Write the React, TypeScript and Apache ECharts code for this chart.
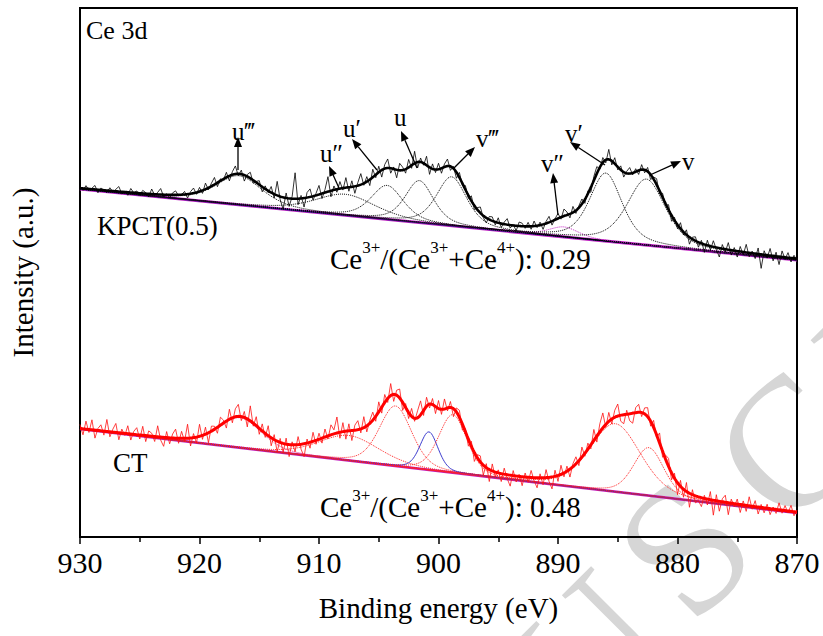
import React, { useEffect, useRef } from "react";
import * as echarts from "echarts";

const SERIF = "serif";

// Binding-energy window (eV) and raw sampling step
const E_HIGH = 930;
const E_LOW = 870;
const RAW_STEP = 0.25;

// ---- KPCT(0.5): Ce 3d fit ----
const KPCT_BACKGROUND = [348, 277]; // linear background at 930 eV and 870 eV
const KPCT_PEAKS = ["u‴", "u″", "u′", "u", "v‴", "v″", "v′", "v"];
const KPCT_CENTER = [916.7, 907.8, 904.3, 901.6, 898.9, 889.5, 886.0, 882.6];
const KPCT_HEIGHT = [29, 21, 34, 42, 49, 10, 68, 66];
const KPCT_FWHM = [4.6, 6.0, 3.2, 2.8, 3.0, 3.0, 3.2, 3.8];
const KPCT_MIX = 0.5; // Lorentzian fraction of the pseudo-Voigt line shape
// raw counts minus fitted envelope, 930 -> 870 eV every 0.25 eV
const KPCT_RESIDUAL = [
  2, -2, 3, -1, 1, 4, -3, 2, 0, -2,
  3, -1, 2, 5, -2, 1, -3, 4, 0, 2,
  -2, 3, 1, -3, 5, -1, 2, 6, -2, 1,
  -3, 2, 4, -1, 0, 3, -4, 2, 5, -2,
  4, -3, 6, -2, 3, 7, -4, 2, -1, 5,
  -5, 3, 8, -2, 4, -6, 2, 6, -3, 1,
  4, -5, 3, -2, 6, -4, 14, -3, -12, 5,
  -8, 2, 26, -6, 3, -9, 5, 8, -4, 2,
  9, -5, 3, 15, -6, 4, -3, 7, -2, 10,
  -4, 6, -7, 3, 11, -2, 5, -6, 8, -3,
  6, -7, 4, 9, -5, 2, -8, 7, 3, -4,
  8, -3, 12, -6, 4, -2, 9, -7, 5, -3,
  6, -5, 3, 7, -4, 2, -6, 5, -2, 4,
  -3, 5, -4, 2, 6, -2, -5, 3, 4, -3,
  5, -4, 2, 6, -3, 1, -5, 4, 3, -2,
  4, -3, 5, -2, 3, -5, 2, 6, -4, 1,
  5, -2, 7, 3, -4, 6, -3, 2, 5, -4,
  3, -5, 4, 7, -2, 5, -3, 10, -4, 6,
  -3, 4, -5, 2, 6, -2, 3, -4, 5, -3,
  4, -5, 2, 6, -3, 4, -2, 5, -6, 3,
  -4, 6, -3, 5, -7, 2, 4, -5, 3, -8,
  5, -4, 6, -2, -9, 4, -3, 7, -5, 3,
  -6, 5, -3, 8, -4, 2, -5, 6, -14, 4,
  -3, 7, -5, 4, -8, 6, -2, 5, -4, 3,
  -2,
];

// ---- CT: Ce 3d fit ----
const CT_BACKGROUND = [108, 24];
const CT_CENTER = [916.6, 907.5, 903.6, 900.8, 898.8, 885.2, 882.4];
const CT_HEIGHT = [30, 25, 60, 38, 58, 68, 48];
const CT_FWHM = [4.2, 6.0, 3.2, 1.8, 2.8, 5.0, 3.0];
const CT_MIX = 0.3;
const CT_RESIDUAL = [
  4, -6, 8, -3, 10, -8, 2, 6, -4, 12,
  -5, 3, 9, -7, 4, -2, 8, -6, 3, 7,
  -4, 9, -6, 5, 3, -5, 11, -3, -9, 6,
  -6, 4, 9, -5, 7, -3, 14, -8, 4, -6,
  12, -4, 7, -10, 5, 3, -6, 8, 3, -7,
  10, -5, 8, 12, -4, 6, -8, 15, -3, 9,
  -6, 7, -4, 10, -8, 5, -11, 4, -9, 6,
  -12, 3, -7, 8, -5, -13, 4, -6, 9, -4,
  6, -5, 8, -3, 10, 4, 16, -6, 9, -8,
  7, -10, 5, 9, -4, 11, -6, 3, 8, -5,
  10, -6, 8, -4, 12, -7, 5, 9, -8, 4,
  -6, 8, -3, 7, 14, -5, 9, -4, 6, -7,
  8, -5, 10, -3, 6, -8, 4, 7, -6, 3,
  -7, 5, -9, 3, 6, -10, 4, -12, 7, -5,
  3, -8, 6, -4, -11, 5, -6, 2, -9, 4,
  -5, 7, -3, -10, 4, -7, 8, -4, -12, 6,
  -6, 9, -4, 5, -8, 3, 7, -5, 10, -3,
  6, -4, 11, -6, 8, 15, -3, 9, -5, 7,
  12, -6, -9, 4, -7, -10, 5, 8, -4, 6,
  9, -5, 7, -3, 10, -6, 4, 8, -7, 5,
  -12, 6, -8, 9, -14, 5, -7, -4, -9, 3,
  -6, 8, -15, 6, -10, 3, 7, -12, 4, -3,
  5, -8, 4, -6, 9, -3, 6, -7, 3, -5,
  4, -6, 2, -4, 7, -3, 5, -2, 6, -4,
  2,
];

function pseudoVoigt(e: number, c: number, h: number, w: number, m: number) {
  const x = (e - c) / (w / 2);
  return h * ((1 - m) * Math.exp(-Math.LN2 * x * x) + m / (1 + x * x));
}

function buildSpectrum(
  bg: number[],
  centers: number[],
  heights: number[],
  fwhm: number[],
  mix: number,
  residual: number[]
) {
  const bgAt = (e: number) => bg[0] + ((bg[1] - bg[0]) * (E_HIGH - e)) / (E_HIGH - E_LOW);
  const peakSum = (e: number) =>
    centers.reduce((s, c, j) => s + pseudoVoigt(e, c, heights[j], fwhm[j], mix), 0);
  const fine: number[] = [];
  for (let k = 0; k <= 600; k++) fine.push(E_HIGH - k * 0.1);
  const components = centers.map((c, j) =>
    fine.map((e) => [e, bgAt(e) + pseudoVoigt(e, c, heights[j], fwhm[j], mix)])
  );
  const envelope = fine.map((e) => [e, bgAt(e) + peakSum(e)]);
  const raw = residual.map((r, i) => {
    const e = E_HIGH - i * RAW_STEP;
    return [e, bgAt(e) + peakSum(e) + r];
  });
  const background = [
    [E_HIGH, bg[0]],
    [E_LOW, bg[1]],
  ];
  return { components, envelope, raw, background };
}

function line(data: number[][], color: string, width: number, type: string = "solid", z = 2) {
  return {
    type: "line",
    data,
    showSymbol: false,
    symbol: "none",
    z,
    silent: true,
    lineStyle: { color, width, type },
  };
}

function arrow(x1: number, y1: number, x2: number, y2: number) {
  const dx = x2 - x1;
  const dy = y2 - y1;
  const len = Math.sqrt(dx * dx + dy * dy);
  const ux = dx / len;
  const uy = dy / len;
  const hl = 10;
  const hw = 4;
  const bx = x2 - ux * hl;
  const by = y2 - uy * hl;
  return [
    {
      type: "line",
      z: 20,
      shape: { x1, y1, x2: bx, y2: by },
      style: { stroke: "#000", lineWidth: 1.3 },
    },
    {
      type: "polygon",
      z: 20,
      shape: {
        points: [
          [x2, y2],
          [bx - uy * hw, by + ux * hw],
          [bx + uy * hw, by - ux * hw],
        ],
      },
      style: { fill: "#000" },
    },
  ];
}

function ratioText(value: string) {
  return `{a|Ce}{s|3+}{a|/(Ce}{s|3+}{a|+Ce}{s|4+}{a|): ${value}}`;
}

const ratioRich = {
  a: { fontSize: 29, fontFamily: SERIF, color: "#000", lineHeight: 34, verticalAlign: "bottom" },
  s: { fontSize: 17, fontFamily: SERIF, color: "#000", lineHeight: 34, verticalAlign: "top" },
};

// text annotation placed by its top-left corner
function note(text: string, left: number, top: number, size: number, rich?: any) {
  return {
    text,
    left,
    top,
    padding: 0,
    itemGap: 0,
    z: 20,
    textStyle: {
      fontSize: size,
      fontFamily: SERIF,
      fontWeight: "normal",
      color: "#000",
      ...(rich ? { rich } : {}),
    },
  };
}

export default function App() {
  const ref = useRef<HTMLDivElement>(null);

  useEffect(() => {
    if (!ref.current) return;
    const chart = echarts.init(ref.current, undefined, { renderer: "svg" });

    const kpct = buildSpectrum(KPCT_BACKGROUND, KPCT_CENTER, KPCT_HEIGHT, KPCT_FWHM, KPCT_MIX, KPCT_RESIDUAL);
    const ct = buildSpectrum(CT_BACKGROUND, CT_CENTER, CT_HEIGHT, CT_FWHM, CT_MIX, CT_RESIDUAL);

    const series: any[] = [];
    // KPCT(0.5)
    series.push(line(kpct.background, "#c020c0", 3, "solid", 1));
    series.push(line(kpct.background, "#1a1a8c", 1.4, "solid", 1));
    kpct.components.forEach((d, j) => {
      const color = KPCT_PEAKS[j] === "v″" ? "#c020c0" : "#000";
      series.push(line(d, color, 1, "dotted", 2));
    });
    series.push(line(kpct.raw, "#000", 0.8, "solid", 3));
    series.push(line(kpct.envelope, "#000", 2.6, "solid", 4));
    // CT
    series.push(line(ct.background, "#c020c0", 2.6, "solid", 1));
    series.push(line(ct.background, "#ff1a1a", 1.2, "solid", 1));
    ct.components.forEach((d, j) => {
      if (j === 3) series.push(line(d, "#2828c8", 0.9, "solid", 2));
      else series.push(line(d, j === 0 ? "#e0208a" : "#ff2020", 1, "dotted", 2));
    });
    series.push(line(ct.raw, "#ff1010", 0.8, "solid", 3));
    series.push(line(ct.envelope, "#ff0000", 3, "solid", 4));

    // diagonal page watermark behind the plot
    const watermark = [
      { t: "U", x: 588, y: 652 },
      { t: "S", x: 684, y: 548 },
      { t: "C", x: 788, y: 446 },
      { t: "R", x: 892, y: 342 },
    ].map((l) => ({
      type: "text",
      x: l.x,
      y: l.y,
      rotation: (45 * Math.PI) / 180,
      z: -10,
      silent: true,
      style: {
        text: l.t,
        fontSize: 185,
        fontFamily: SERIF,
        fill: "#d6d6d6",
        align: "center",
        verticalAlign: "middle",
      },
    }));

    // peak labels: text box top-left, arrow tail -> head
    const peakLabels = [
      { t: "u‴", left: 232, top: 119, a: [238, 170, 238, 137] },
      { t: "u″", left: 320, top: 141, a: [339, 188, 329, 166] },
      { t: "u′", left: 343, top: 116, a: [377, 170, 352, 139] },
      { t: "u", left: 394, top: 105, a: [417, 168, 401, 131] },
      { t: "v‴", left: 476, top: 126, a: [453, 169, 475, 147] },
      { t: "v″", left: 541, top: 151, a: [558, 215, 553, 173] },
      { t: "v′", left: 565, top: 121, a: [605, 165, 570, 142] },
      { t: "v", left: 682, top: 149, a: [650, 175, 681, 161] },
    ];
    const arrowEls: any[] = [];
    peakLabels.forEach((p) => arrowEls.push(...arrow(p.a[0], p.a[1], p.a[2], p.a[3])));

    chart.setOption({
      animation: false,
      backgroundColor: "#fff",
      textStyle: { fontFamily: SERIF },
      title: [
        note("Ce 3d", 86, 17, 26),
        note("KPCT(0.5)", 97, 212, 27),
        note("CT", 113, 449, 27),
        note(ratioText("0.29"), 330, 239, 29, ratioRich),
        note(ratioText("0.48"), 320, 487, 29, ratioRich),
        ...peakLabels.map((p) => note(p.t, p.left, p.top, 25)),
      ],
      grid: {
        left: 79,
        right: 26,
        top: 8,
        bottom: 99,
        show: true,
        borderColor: "#000",
        borderWidth: 2,
        backgroundColor: "transparent",
      },
      xAxis: {
        type: "value",
        min: E_LOW,
        max: E_HIGH,
        interval: 10,
        inverse: true,
        name: "Binding energy (eV)",
        nameLocation: "middle",
        nameGap: 56,
        nameTextStyle: { fontSize: 29, fontFamily: SERIF, color: "#000" },
        axisLine: { show: true, lineStyle: { color: "#000", width: 2 } },
        axisTick: { show: true, inside: false, length: 7, lineStyle: { color: "#000", width: 1.5 } },
        minorTick: { show: true, splitNumber: 2, length: 5, lineStyle: { color: "#000", width: 1.5 } },
        axisLabel: { fontSize: 30, fontFamily: SERIF, color: "#000", margin: 10 },
        splitLine: { show: false },
      },
      yAxis: {
        type: "value",
        min: 0,
        max: 529,
        name: "Intensity (a.u.)",
        nameLocation: "middle",
        nameGap: 43,
        nameTextStyle: { fontSize: 29, fontFamily: SERIF, color: "#000" },
        axisLine: { show: false },
        axisTick: { show: false },
        axisLabel: { show: false },
        splitLine: { show: false },
      },
      graphic: [...watermark, ...arrowEls],
      series,
    });

    return () => chart.dispose();
  }, []);

  return (
    <div
      ref={ref}
      style={{ position: "fixed", left: 0, top: 0, width: 823, height: 636, background: "#fff" }}
    />
  );
}
